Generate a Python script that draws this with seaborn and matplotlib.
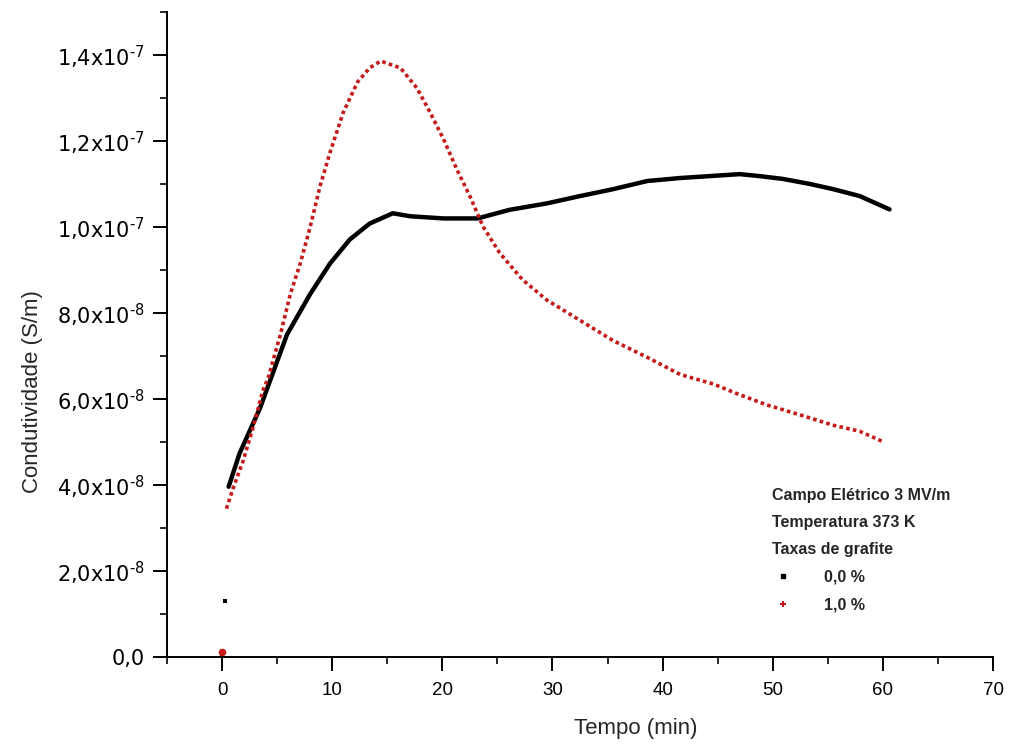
import numpy as np
import pandas as pd
import matplotlib
matplotlib.use("Agg")
import matplotlib.pyplot as plt
from matplotlib.ticker import MultipleLocator, FuncFormatter
from matplotlib.lines import Line2D
import seaborn as sns

# ---- data ----
# 0,0 % graphite (black)
t_00 = [0.6, 1.6, 3.45, 5.9, 8.0, 9.8, 11.6, 13.4, 15.5, 17.1, 20.1, 23.2, 26.1,
        29.5, 32.5, 35.5, 38.6, 41.6, 44.6, 47.0, 48.6, 50.9, 53.4, 55.5, 57.9, 60.6]
s_00 = [3.96e-8, 4.74e-8, 5.79e-8, 7.50e-8, 8.44e-8, 9.15e-8, 9.71e-8, 10.08e-8,
        10.32e-8, 10.25e-8, 10.20e-8, 10.20e-8, 10.40e-8, 10.55e-8, 10.72e-8,
        10.88e-8, 11.07e-8, 11.14e-8, 11.19e-8, 11.23e-8, 11.19e-8, 11.12e-8,
        11.00e-8, 10.88e-8, 10.72e-8, 10.41e-8]
t_00_iso = [0.0, 0.3]
s_00_iso = [0.0, 1.30e-8]

# 1,0 % graphite (red)
t_10 = [0.4, 1.0, 1.9, 2.8, 3.7, 4.2, 5.3, 6.2, 7.1, 8.0, 8.9, 9.8, 11.0, 12.3,
        13.4, 14.4, 16.2, 17.7, 18.9, 20.1, 21.3, 22.5, 23.7, 25.2, 27.3, 29.5,
        32.5, 35.5, 38.6, 41.6, 44.6, 46.8, 49.5, 52.5, 55.5, 57.9, 59.9]
s_10 = [3.45e-8, 3.92e-8, 4.55e-8, 5.32e-8, 6.19e-8, 6.50e-8, 7.50e-8, 8.44e-8,
        9.15e-8, 10.00e-8, 10.95e-8, 11.73e-8, 12.66e-8, 13.37e-8, 13.70e-8,
        13.86e-8, 13.70e-8, 13.23e-8, 12.66e-8, 12.05e-8, 11.35e-8, 10.72e-8,
        10.01e-8, 9.40e-8, 8.77e-8, 8.30e-8, 7.83e-8, 7.36e-8, 6.97e-8, 6.57e-8,
        6.35e-8, 6.12e-8, 5.86e-8, 5.63e-8, 5.39e-8, 5.25e-8, 5.02e-8]
t_10_iso = [0.0]
s_10_iso = [0.12e-8]

series_labels = ["0,0 %", "1,0 %"]
legend_title = "Campo Elétrico 3 MV/m\nTemperatura 373 K\nTaxas de grafite"
x_label = "Tempo (min)"
y_label = "Condutividade (S/m)"

black = "#000000"
red = "#c41a1a"

sns.set_style("ticks")
plt.rcParams["font.family"] = ["Liberation Sans", "DejaVu Sans"]
plt.rcParams["mathtext.fontset"] = "dejavusans"

fig = plt.figure(figsize=(10.10, 7.52), dpi=100)
ax = fig.add_axes([0.1653, 0.1263, 0.8179, 0.8577])

df00 = pd.DataFrame({"t": t_00, "s": s_00})
df10 = pd.DataFrame({"t": t_10, "s": s_10})

sns.lineplot(data=df00, x="t", y="s", ax=ax, color=black, lw=3.2,
             estimator=None, sort=False)
sns.lineplot(data=df10, x="t", y="s", ax=ax, color=red, lw=2.6,
             estimator=None, sort=False, linestyle=(0, (1.0, 0.9)))
sns.scatterplot(x=t_00_iso, y=s_00_iso, ax=ax, color=black, s=12, marker="s",
                linewidth=0)
sns.scatterplot(x=t_10_iso, y=s_10_iso, ax=ax, color=red, s=30, marker="o",
                linewidth=0)

ax.set_xlim(-5, 70)
ax.set_ylim(0, 1.5e-7)
ax.xaxis.set_major_locator(MultipleLocator(10))
ax.xaxis.set_minor_locator(MultipleLocator(5))
ax.yaxis.set_major_locator(MultipleLocator(2e-8))
ax.yaxis.set_minor_locator(MultipleLocator(1e-8))


def yfmt(v, pos):
    if v < -1e-12:
        return ""
    if abs(v) < 1e-12:
        return "0,0"
    e = int(np.floor(np.log10(v) + 1e-9))
    m = v / 10 ** e
    return f"{m:.1f}".replace(".", ",") + "x10" + "$^{\u2010" + str(-e) + "}$"


ax.yaxis.set_major_formatter(FuncFormatter(yfmt))

for sp in ["top", "right"]:
    ax.spines[sp].set_visible(False)
for sp in ["left", "bottom"]:
    ax.spines[sp].set_linewidth(1.4)
    ax.spines[sp].set_color("black")

ax.tick_params(axis="both", which="major", direction="out", length=10, width=1.4,
               labelsize=13.5, colors="black")
ax.tick_params(axis="both", which="minor", direction="out", length=5, width=1.4)
ax.tick_params(axis="x", pad=8)
ax.tick_params(axis="y", pad=6)
for lab in ax.get_yticklabels():
    lab.set_fontfamily("DejaVu Sans")
    lab.set_fontsize(15)

ax.set_xlabel(x_label, fontsize=16)
ax.set_ylabel(y_label, fontsize=16)
ax.xaxis.set_label_coords(0.568, -0.095)
ax.yaxis.set_label_coords(-0.150, 0.411)

handles = [
    Line2D([], [], linestyle="none", marker="s", markersize=3.5, color=black),
    Line2D([], [], linestyle="none", marker="+", markersize=5, color=red,
           markeredgewidth=1.5),
]
leg = ax.legend(handles, series_labels, title=legend_title, frameon=False,
                loc="upper left", bbox_to_anchor=(0.733, 0.262),
                prop={"size": 11.5, "weight": "bold"},
                title_fontproperties={"size": 11.5, "weight": "bold"},
                alignment="left", handlelength=1.3, handletextpad=1.9,
                labelspacing=0.8, borderpad=0, borderaxespad=0)
leg.get_title().set_linespacing(2.0)

fig.savefig("out.png", dpi=100)
